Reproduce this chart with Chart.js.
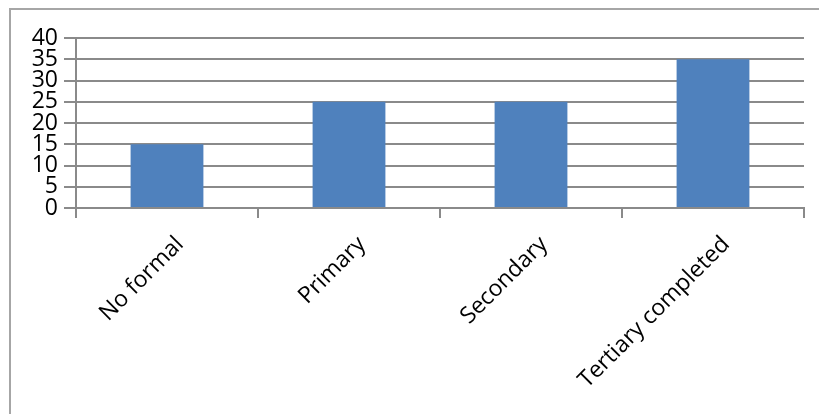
<!DOCTYPE html>
<html>
<head>
<meta charset="utf-8">
<script src="https://cdn.jsdelivr.net/npm/chart.js@4.4.0/dist/chart.umd.min.js"></script>
<style>
  html, body { margin: 0; padding: 0; background: #fff; overflow: hidden; }
  #wrap { position: relative; width: 819px; height: 414px; overflow: hidden; }
  #frame { position: absolute; left: 9px; top: 8px; width: 900px; height: 500px; border: 2px solid #a6a6a6; }
  #chart { position: absolute; left: 0; top: 0; }
</style>
</head>
<body>
<div id="wrap">
  <div id="frame"></div>
  <canvas id="chart" width="819" height="414"></canvas>
</div>
<script>
const categories = ['No formal', 'Primary', 'Secondary', 'Tertiary completed'];
const values = [15, 25, 25, 35];
const yTicks = [0, 5, 10, 15, 20, 25, 30, 35, 40];

const gridColor = '#8a8a8a';

new Chart(document.getElementById('chart'), {
  type: 'bar',
  data: {
    labels: categories,
    datasets: [{
      data: values,
      backgroundColor: '#4f81bd',
      barPercentage: 0.4,
      categoryPercentage: 1
    }]
  },
  options: {
    responsive: false,
    animation: false,
    devicePixelRatio: 1,
    layout: { padding: { top: 38, right: 15, left: 0, bottom: 0 } },
    plugins: { legend: { display: false }, tooltip: { enabled: false } },
    scales: {
      x: {
        grid: {
          drawOnChartArea: false,
          drawTicks: true,
          tickLength: 10,
          color: gridColor,
          lineWidth: 2
        },
        border: { color: gridColor, width: 2 },
        ticks: {
          autoSkip: false,
          minRotation: 45,
          maxRotation: 45,
          padding: 13,
          labelOffset: 13,
          color: '#000',
          font: { family: 'Open Sans', size: 23 }
        },
        afterFit: (scale) => { scale.height = 414 - 208; }
      },
      y: {
        min: 0,
        max: 40,
        afterBuildTicks: (scale) => { scale.ticks = yTicks.map(v => ({ value: v })); },
        grid: {
          color: gridColor,
          lineWidth: 2,
          tickLength: 12
        },
        border: { color: gridColor, width: 2 },
        ticks: {
          autoSkip: false,
          padding: 6,
          color: '#000',
          font: { family: 'Open Sans', size: 23, lineHeight: 0.9 }
        },
        afterFit: (scale) => { scale.width = 76; }
      }
    }
  }
});
</script>
</body>
</html>
